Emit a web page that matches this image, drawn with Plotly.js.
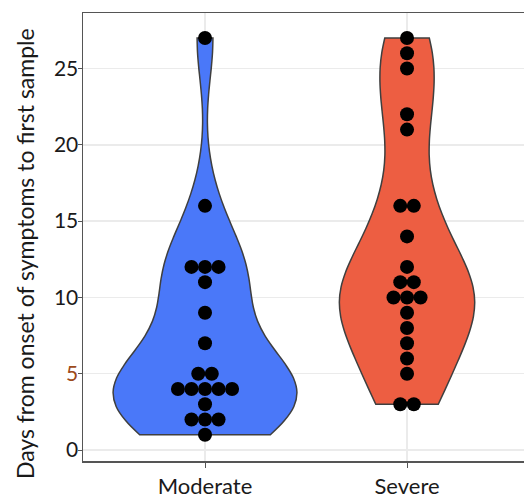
<!DOCTYPE html>
<html><head><meta charset="utf-8">
<script src="https://cdn.plot.ly/plotly-3.0.1.min.js"></script>
<style>html,body{margin:0;padding:0;background:#fff}</style>
</head><body><div id="chart" style="width:524px;height:501px"></div>
<script>
const categories = ['Moderate', 'Severe'];
const moderateDays = [27,16,12,12,12,11,9,7,5,5,4,4,4,4,4,3,2,2,2,1];
const severeDays = [27,26,25,22,21,16,16,14,12,11,11,10,10,10,9,8,7,6,5,3,3];
const yTickVals = [0,5,10,15,20,25];
const yTickText = ['0','<span style="color:#9c4a1a">5</span>','10','15','20','25'];
const yTitle = 'Days from onset of symptoms to first sample';
const fillColors = ['#4a78f9', '#ed5e42'];
const violinWidths = [0.91, 0.67];
const bandwidths = [2.8, 2.9];

function swarm(values, center, step) {
  const counts = {};
  values.forEach(v => { counts[v] = (counts[v] || 0) + 1; });
  const xs = [], ys = [];
  Object.keys(counts).forEach(k => {
    const n = counts[k];
    for (let i = 0; i < n; i++) { xs.push(center + (i - (n - 1) / 2) * step); ys.push(+k); }
  });
  return {xs, ys};
}

const series = [moderateDays, severeDays];
const traces = [];
series.forEach((vals, i) => {
  traces.push({
    type: 'violin', x0: i, y: vals, name: categories[i],
    width: violinWidths[i], bandwidth: bandwidths[i], spanmode: 'hard',
    scalemode: 'width', fillcolor: fillColors[i],
    line: {color: '#3f3f3f', width: 1.5},
    points: false, box: {visible: false}, meanline: {visible: false},
    hoverinfo: 'skip'
  });
});
series.forEach((vals, i) => {
  const s = swarm(vals, i, 0.067);
  traces.push({
    type: 'scatter', mode: 'markers', x: s.xs, y: s.ys,
    marker: {size: 14, color: '#000000', line: {width: 0}},
    cliponaxis: false, hoverinfo: 'skip'
  });
});

const layout = {
  width: 524, height: 501,
  margin: {l: 83, r: 0, t: 13, b: 40},
  paper_bgcolor: '#ffffff', plot_bgcolor: '#ffffff',
  showlegend: false,
  font: {family: 'Lato, "DejaVu Sans", sans-serif', color: '#1a1a1a', size: 21},
  xaxis: {
    type: 'linear', range: [-0.604, 1.579],
    tickvals: [0, 1], ticktext: categories,
    tickfont: {size: 22, color: '#1a1a1a'},
    showgrid: true, gridcolor: '#ebebeb', gridwidth: 1.5,
    zeroline: false, showline: true, linecolor: '#555555', linewidth: 1.5, mirror: true,
    ticks: 'outside', ticklen: 5, tickcolor: '#555555'
  },
  yaxis: {
    range: [-0.72, 28.64],
    tickvals: yTickVals, ticktext: yTickText,
    tickfont: {size: 21, color: '#1a1a1a'},
    ticklabelstandoff: -5,
    showgrid: true, gridcolor: '#ebebeb', gridwidth: 1.5,
    zeroline: false, showline: true, linecolor: '#555555', linewidth: 1.5,
    ticks: 'outside', ticklen: 4, tickcolor: '#555555'
  },
  annotations: [{
    text: yTitle, textangle: -90, showarrow: false,
    xref: 'paper', yref: 'paper', x: -0.1315, y: 0.462,
    xanchor: 'center', yanchor: 'middle',
    font: {size: 23, color: '#1a1a1a'}
  }]
};

Plotly.newPlot('chart', traces, layout, {displayModeBar: false, staticPlot: true});
</script>
</body></html>
